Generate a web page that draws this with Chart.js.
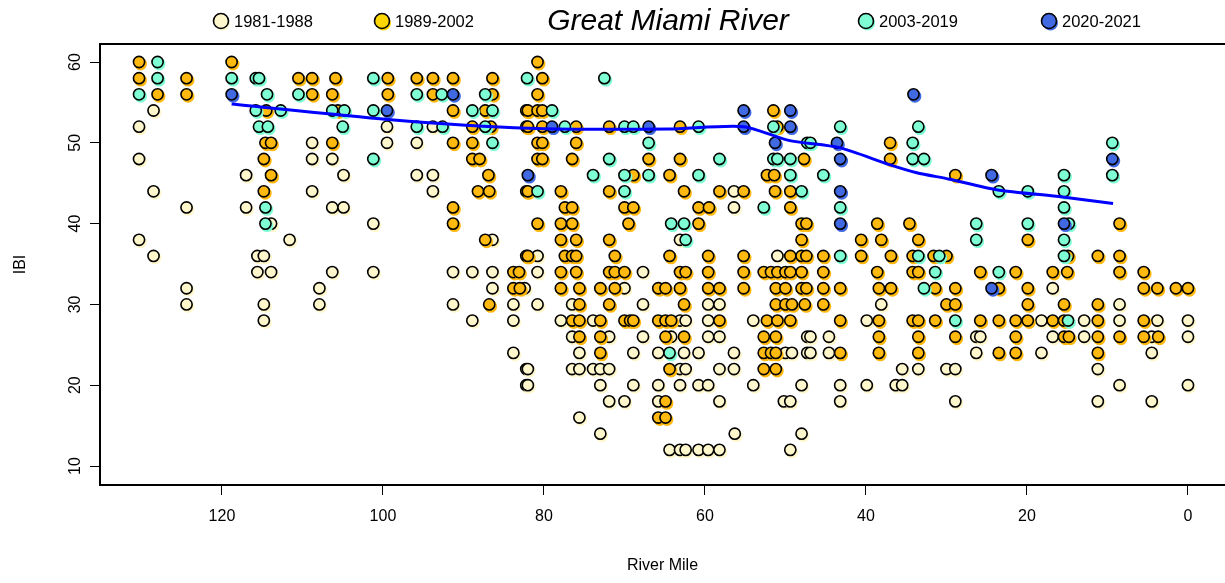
<!DOCTYPE html>
<html>
<head>
<meta charset="utf-8">
<script src="https://cdn.jsdelivr.net/npm/chart.js@4.4.1/dist/chart.umd.min.js"></script>
<style>
  body { margin: 0; background: #fff; }
  #wrap { width: 1225px; height: 583px; }
</style>
</head>
<body>
<div id="wrap"><canvas id="ibiChart" width="1225" height="583"></canvas></div>
<script>
// ==== data: [river mile, IBI] ====
const seriesLabels = ['1981-1988', '1989-2002', '2003-2019', '2020-2021'];
const xTicks = [0, 20, 40, 60, 80, 100, 120];
const yTicks = [10, 20, 30, 40, 50, 60];

const pts1981 = [
  [128.5,54],[130.3,52],[130.3,48],[117,46],[128.5,44],[124.4,42],[117,42],[130.3,38],[128.5,36],[124.4,32],[124.4,30],
  [108.8,50],[99.5,50],[99.5,52],[108.8,48],[106.3,48],[104.9,46],[108.8,44],[106.3,42],[104.9,42],[101.2,40],[113.9,40],
  [111.6,38],[115.6,36],[114.8,36],[115.6,34],[113.9,34],[106.3,34],[101.2,34],[107.9,32],[114.8,30],[107.9,30],[114.8,28],
  [93.8,52],[95.8,50],[95.8,46],[93.8,46],[93.8,44],[86.4,38],[91.3,34],[88.9,34],[86.4,34],[86.4,32],[82.4,32],
  [91.3,30],[83.8,30],[88.9,28],[83.8,28],[83.8,24],[82.2,22],[82.2,20],
  [80.8,36],[80.8,34],[67.7,34],[70.0,32],[80.8,30],[76.5,30],[67.7,30],[77.9,28],[73.9,28],[76.5,26],[71.9,26],[67.7,26],
  [75.6,24],[68.9,24],[65.8,24],[82.0,22],[76.5,22],[75.6,22],[73.9,22],[73.0,22],[71.9,22],[82.0,20],[73.0,20],[68.9,20],
  [65.8,20],[71.9,18],[70.0,18],[65.8,18],[75.6,16],[73.0,14],[64.4,12],
  [56.4,44],[56.4,42],[63.1,38],[51.0,36],[59.6,30],[58.2,30],[63.1,28],[62.4,28],[59.6,28],[54.0,28],[64.2,26],[59.6,26],
  [58.2,26],[47.3,26],[62.6,24],[60.8,24],[56.4,24],[50.0,24],[49.2,24],[47.3,24],[63.1,22],[62.4,22],[58.2,22],[56.4,22],
  [63.1,20],[60.8,20],[59.6,20],[54.0,20],[48.0,20],[58.2,18],[50.2,18],[49.4,18],[56.3,14],[48.0,14],
  [63.1,12],[62.4,12],[60.8,12],[59.6,12],[58.2,12],[49.4,12],
  [38.1,30],[39.9,28],[46.9,26],[44.6,26],[46.9,24],[44.6,24],[35.5,22],[33.5,22],[30.0,22],[43.2,20],[39.9,20],[36.3,20],
  [35.5,20],[43.2,18],
  [16.8,32],[18.2,28],[12.9,28],[26.3,26],[25.8,26],[16.8,26],[12.9,26],[26.3,24],[18.2,24],[28.9,22],[28.9,18],
  [8.5,30],[8.5,28],[3.8,28],[0,28],[4.5,26],[0,26],[4.5,24],[11.2,22],[8.5,20],[0,20],[11.2,18],[4.5,18]
];

const pts1989 = [
  [130.3,60],[130.3,58],[128,56],[124.4,58],[124.4,56],[118.8,60],
  [110.5,58],[108.8,58],[105.9,58],[99.4,58],[108.8,56],[106.3,56],[99.4,56],[114.5,54],[105.6,54],[114.6,50],[113.9,50],
  [106.3,50],[114.8,48],[113.9,46],[114.8,44],
  [95.8,58],[93.8,58],[91.3,58],[86.4,58],[93.8,56],[86.4,56],[91.3,54],[87.3,54],[82.2,54],[88.9,52],[86.6,52],[82.2,52],
  [91.3,50],[88.9,50],[88.9,48],[88.0,48],[86.9,46],[88.2,44],[86.8,44],[82.2,44],[91.3,42],[91.3,40],[87.3,38],[82.2,36],
  [83.8,34],[83.1,34],[83.8,32],[83.0,32],[86.8,30],
  [80.8,60],[80.2,58],[80.8,56],[82.0,54],[80.8,54],[80.2,54],[82.0,52],[80.2,52],[76.0,52],[71.9,52],[80.8,50],[80.2,50],
  [76.0,50],[80.8,48],[80.2,48],[76.5,48],[67.0,48],[68.9,46],[64.4,46],[82.0,44],[77.9,44],[71.9,44],[77.4,42],[76.5,42],
  [70.0,42],[68.9,42],[80.8,40],[77.9,40],[76.5,40],[69.5,40],[77.9,38],[76.0,38],[71.9,38],[82.0,36],[77.4,36],[76.5,36],
  [76.0,36],[71.2,36],[64.4,36],[77.9,34],[76.0,34],[71.9,34],[71.2,34],[70.0,34],[77.9,32],[75.6,32],[73.0,32],[71.2,32],
  [65.8,32],[64.9,32],[75.6,30],[71.9,30],[76.5,28],[75.6,28],[73.0,28],[70.0,28],[69.3,28],[68.9,28],[65.8,28],[64.9,28],
  [75.6,26],[73.0,26],[64.9,26],[73.0,24],[64.4,22],[64.9,18],[65.8,16],[64.9,16],
  [51.5,54],[63.1,52],[51.0,52],[63.1,48],[47.7,48],[52.3,46],[51.4,46],[62.6,44],[58.2,44],[55.2,44],[51.3,44],[49.4,44],
  [60.8,42],[59.5,42],[49.4,42],[60.8,40],[48.0,40],[48.0,38],[59.6,36],[55.2,36],[49.4,36],[48.0,36],[63.1,34],[62.4,34],
  [59.6,34],[55.2,34],[52.7,34],[51.8,34],[51.0,34],[50.0,34],[49.4,34],[48.0,34],[63.1,32],[59.6,32],[58.2,32],[55.2,32],
  [51.2,32],[50.0,32],[48.0,32],[62.6,30],[51.2,30],[50.0,30],[49.2,30],[47.6,30],[64.2,28],[58.2,28],[52.3,28],[51.0,28],
  [49.4,28],[62.6,26],[52.7,26],[51.2,26],[52.7,24],[51.8,24],[51.2,24],[52.7,22],[51.2,22],
  [37.0,50],[37.0,48],[47.4,40],[38.6,40],[34.6,40],[40.6,38],[38.1,38],[33.5,38],[47.4,36],[45.3,36],[40.6,36],[36.9,36],
  [34.2,36],[31.6,36],[30.0,36],[45.3,34],[38.6,34],[34.2,34],[33.5,34],[47.4,32],[45.3,32],[43.2,32],[38.4,32],[36.9,32],
  [31.4,32],[45.3,30],[30.0,30],[43.2,28],[38.4,28],[34.2,28],[33.5,28],[31.4,28],[38.4,26],[33.5,26],[43.2,24],[38.4,24],
  [33.5,24],
  [28.9,46],[19.9,38],[25.8,34],[21.4,34],[16.8,34],[15.0,34],[28.9,32],[23.5,32],[19.9,32],[28.9,30],[19.9,30],[15.4,30],
  [25.8,28],[23.5,28],[21.4,28],[19.9,28],[16.8,28],[15.4,28],[28.9,26],[21.4,26],[15.4,26],[14.8,26],[23.5,24],[21.4,24],
  [14.9,36],
  [8.5,40],[11.2,36],[8.5,36],[8.5,34],[5.5,34],[5.5,32],[3.8,32],[1.5,32],[0,32],[11.2,30],[11.2,28],[5.5,28],[11.2,26],
  [8.5,26],[5.5,26],[3.7,26],[11.2,24]
];

const pts2003 = [
  [128,60],[128,58],[118.8,58],[130.3,56],
  [115.8,58],[115.4,58],[101.2,58],[114.4,56],[110.5,56],[115.8,54],[112.7,54],[106.3,54],[104.8,54],[101.2,54],[115.4,52],
  [114.3,52],[105.0,52],[101.2,48],[114.6,42],[114.6,40],
  [82.1,58],[95.8,56],[92.7,56],[87.3,56],[88.9,54],[86.4,54],[95.8,52],[92.6,52],[87.3,52],[86.4,50],
  [79.0,54],[77.4,52],[70.0,52],[68.9,52],[67.0,50],[71.9,48],[73.9,46],[70.0,46],[67.0,46],[80.8,44],[70.0,44],[64.4,24],
  [72.5,58],
  [60.8,52],[51.5,52],[47.3,50],[58.2,48],[51.5,48],[51.0,48],[49.4,48],[60.8,46],[49.4,46],[48.0,44],[52.7,42],[64.2,40],
  [62.6,40],[62.4,38],
  [43.2,52],[33.5,52],[46.9,50],[34.2,50],[34.2,48],[32.8,48],[45.3,46],[43.2,42],[43.2,36],[33.5,36],[31.4,34],[32.8,32],
  [15.4,46],[23.5,44],[19.9,44],[15.4,44],[15.4,42],[26.3,40],[19.9,40],[14.8,40],[26.3,38],[15.4,38],[30.9,36],[15.4,36],
  [23.5,34],[28.9,28],[14.9,28],
  [9.4,50],[9.4,46]
];

const pts2020 = [
  [118.8,56],[99.5,54],[91.3,56],[82.0,46],[79.0,52],[67.0,52],[55.2,54],[49.4,54],[55.2,52],[49.4,52],[51.3,50],
  [34.1,56],[43.6,50],[43.2,48],[43.2,44],[43.2,40],[24.4,46],[15.4,40],[24.4,32],[9.4,48]
];

// smoothed trend line
const trendMile = [118.8, 99.4, 81.9, 64.5, 55.2, 49.6, 43.3, 37.1, 33.7, 29.6, 23.8, 15.6, 9.3];
const trendIBI  = [54.8, 52.9, 51.8, 51.7, 52.0, 50.3, 49.4, 47.3, 46.3, 45.5, 44.2, 43.3, 42.5];

// ==== styles ====
const fills = ['#FFF7CC', '#FFB90F', '#7FFFD4', '#4169E1'];
const legendFills = ['#FFF7CC', '#FFD700', '#7FFFD4', '#4169E1'];
const FONT = '"Liberation Sans", Arial, sans-serif';

const toXY = arr => arr.map(p => ({ x: p[0], y: p[1] }));
const pointSets = [pts1981, pts1989, pts2003, pts2020];

const datasets = pointSets.map((pts, i) => ({
  label: seriesLabels[i],
  data: toXY(pts),
  backgroundColor: fills[i],
  borderColor: '#000',
  borderWidth: 1.6,
  pointRadius: 5.6,
  order: 5 - i
}));
datasets.push({
  label: 'trend',
  data: trendMile.map((m, i) => ({ x: m, y: trendIBI[i] })),
  showLine: true,
  borderColor: '#0000FF',
  borderWidth: 3,
  pointRadius: 0,
  tension: 0.25,
  order: 0
});

// colored ghost under each point (like the original)
const ghostPlugin = {
  id: 'ghost',
  beforeDatasetDraw(chart, args) {
    const ds = chart.data.datasets[args.index];
    if (ds.showLine) return;
    const c = chart.ctx;
    c.save();
    c.shadowColor = ds.backgroundColor;
    c.shadowOffsetX = 1.5;
    c.shadowOffsetY = 2;
    c.shadowBlur = 0;
  },
  afterDatasetDraw(chart, args) {
    const ds = chart.data.datasets[args.index];
    if (ds.showLine) return;
    chart.ctx.restore();
  }
};

// title, legend, top border, rotated y tick labels
const decorPlugin = {
  id: 'decor',
  afterDraw(chart) {
    const c = chart.ctx;
    const area = chart.chartArea;
    c.save();
    // top border
    c.strokeStyle = '#000';
    c.lineWidth = 2;
    c.beginPath();
    c.moveTo(area.left, area.top);
    c.lineTo(area.right, area.top);
    c.stroke();

    // y tick labels, rotated like R
    const ys = chart.scales.y;
    c.fillStyle = '#000';
    c.font = '16px ' + FONT;
    c.textAlign = 'center';
    c.textBaseline = 'middle';
    ys.ticks.forEach(t => {
      const py = ys.getPixelForValue(t.value);
      c.save();
      c.translate(76, py);
      c.rotate(-Math.PI / 2);
      c.fillText(String(t.value), 0, 0);
      c.restore();
    });

    // title
    c.font = 'italic 30px ' + FONT;
    c.fillText('Great Miami River', 668, 22);

    // legend
    const legendX = [221, 382, 866, 1049];
    c.font = '16.5px ' + FONT;
    c.textAlign = 'left';
    seriesLabels.forEach((lab, i) => {
      const x = legendX[i], y = 21;
      c.fillStyle = legendFills[i];
      c.beginPath();
      c.arc(x + 1.5, y + 2, 7.5, 0, Math.PI * 2);
      c.fill();
      c.beginPath();
      c.arc(x, y, 7.5, 0, Math.PI * 2);
      c.fill();
      c.lineWidth = 1.6;
      c.strokeStyle = '#000';
      c.stroke();
      c.fillStyle = '#000';
      c.fillText(lab, x + 13, y + 1);
    });
    c.restore();
  }
};

const ctx = document.getElementById('ibiChart').getContext('2d');
const ibiChart = new Chart(ctx, {
  type: 'scatter',
  data: { datasets: datasets },
  plugins: [ghostPlugin, decorPlugin],
  options: {
    responsive: false,
    animation: false,
    layout: { autoPadding: false, padding: { top: 44, right: 0, left: 0, bottom: 0 } },
    plugins: {
      legend: { display: false },
      tooltip: { enabled: false }
    },
    scales: {
      x: {
        type: 'linear',
        reverse: true,
        min: -4.6,
        max: 135.15,
        afterBuildTicks: s => { s.ticks = xTicks.map(v => ({ value: v })); },
        afterFit: s => { s.height = 98; s.paddingLeft = 0; s.paddingRight = 0; },
        grid: { drawOnChartArea: false, drawTicks: true, tickLength: 10, color: '#000', lineWidth: 1 },
        border: { color: '#000', width: 2 },
        ticks: { color: '#000', font: { family: FONT, size: 16 }, padding: 12, maxRotation: 0 },
        title: { display: true, text: 'River Mile', color: '#000', font: { family: FONT, size: 16 }, padding: { top: 0, bottom: 8 } }
      },
      y: {
        type: 'linear',
        min: 7.65,
        max: 62.23,
        afterBuildTicks: s => { s.ticks = yTicks.map(v => ({ value: v })); },
        afterFit: s => { s.width = 100; s.paddingTop = 0; s.paddingBottom = 0; },
        grid: { drawOnChartArea: false, drawTicks: true, tickLength: 10, color: '#000', lineWidth: 1 },
        border: { color: '#000', width: 2 },
        ticks: { display: false },
        title: { display: true, text: 'IBI', color: '#000', font: { family: FONT, size: 16 }, padding: { top: 11, bottom: 0 } }
      }
    }
  }
});
</script>
</body>
</html>
